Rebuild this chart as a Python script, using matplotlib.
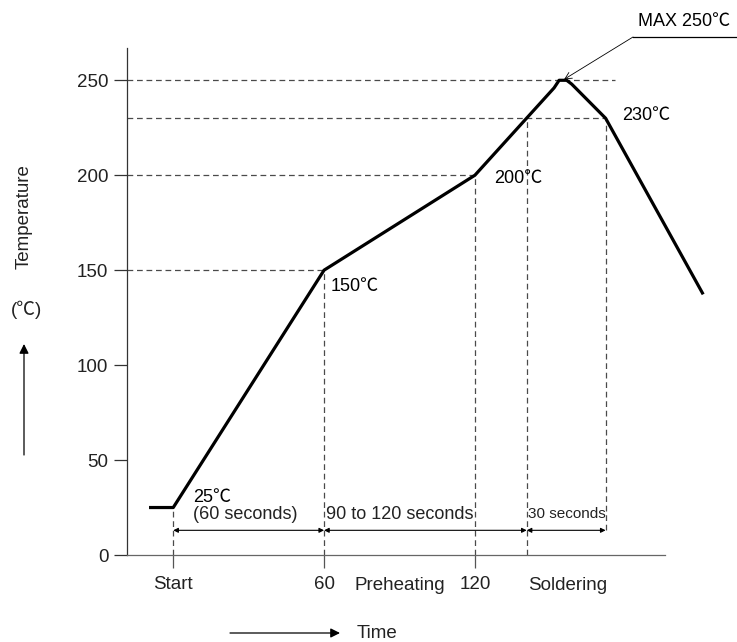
import matplotlib.pyplot as plt

plt.rcParams['font.family'] = ['Liberation Sans', 'Noto Sans CJK KR', 'DejaVu Sans']

# reflow profile (time in s from start, temperature in C)
profile_time = [-9, 0, 60, 120, 151.5, 153.5, 156.5, 158.5, 172, 210.5]
profile_temp = [25, 25, 150, 200, 246, 250, 250, 248, 230, 138]

# horizontal guide lines: level and where they stop
guide_levels = [250, 230, 200, 150]
guide_ends = [175.7, 172, 120, 60]

# vertical guide lines
vguide_x = [0, 60, 120, 140.6, 172]
vguide_top = [25, 150, 200, 230, 230]
vguide_bottom = [0, 0, 0, 0, 13]

# duration spans
spans = [(0, 60), (60, 140.6), (140.6, 172)]
span_y = 13

yticks = [0, 50, 100, 150, 200, 250]
xticks = [0, 60, 120]
xtick_labels = ['Start', '60', '120']

fig = plt.figure(figsize=(7.37, 6.42), dpi=100)
ax = fig.add_axes([127 / 737, (642 - 555) / 642, (720 - 127) / 737, (555 - 48) / 642])
ax.set_xlim(-18.4, 217.5)
ax.set_ylim(0, 267)

for s in ['top', 'right']:
    ax.spines[s].set_visible(False)
ax.spines['left'].set_color('#333333')
ax.spines['bottom'].set_color('#666666')
ax.spines['left'].set_linewidth(0.9)
ax.spines['bottom'].set_linewidth(0.9)
ax.spines['bottom'].set_bounds(-18.4, 195.6)

ax.set_yticks(yticks)
ax.set_xticks(xticks)
ax.set_xticklabels(xtick_labels)
ax.tick_params(axis='y', direction='out', length=9.4, width=0.9, color='#333333',
               labelsize=13.5, pad=4, labelcolor='#222222')
ax.tick_params(axis='x', direction='out', length=9.4, width=0.9, color='#555555',
               labelsize=13.5, pad=6, labelcolor='#222222')

dash = (0, (4.6, 3.0))
for lev, end in zip(guide_levels, guide_ends):
    ax.plot([-18.4, end], [lev, lev], color='#4a4a4a', lw=0.9, ls=dash, clip_on=False)
for x, top, bot in zip(vguide_x, vguide_top, vguide_bottom):
    ax.plot([x, x], [bot, top], color='#4a4a4a', lw=0.9, ls=dash, clip_on=False)

ax.plot(profile_time, profile_temp, color='black', lw=2.3, solid_joinstyle='round',
        clip_on=False, zorder=5)

for a, b in spans:
    ax.annotate('', xy=(b, span_y), xytext=(a, span_y),
                arrowprops=dict(arrowstyle='<|-|>', color='black', lw=0.8,
                                mutation_scale=7, shrinkA=0, shrinkB=0))

ax.text(7.8, 21.5, '(60 seconds)', fontsize=13, va='center', ha='left', color='#222222')
ax.text(90.3, 21.5, '90 to 120 seconds', fontsize=13, va='center', ha='center', color='#222222')
ax.text(156.5, 21.5, '30 seconds', fontsize=11, va='center', ha='center', color='#222222')

ax.text(7.9, 30.5, '25℃', fontsize=13, va='center', ha='left', color='black')
ax.text(62.7, 141.5, '150℃', fontsize=13, va='center', ha='left', color='black')
ax.text(127.5, 198.5, '200℃', fontsize=13, va='center', ha='left', color='black')
ax.text(178.5, 231.5, '230℃', fontsize=13, va='center', ha='left', color='black')

# extra axis labels
ax.text(90, -15.8, 'Preheating', fontsize=13.5, va='center', ha='center', color='#222222')
ax.text(157, -15.8, 'Soldering', fontsize=13.5, va='center', ha='center', color='#222222')

# MAX leader line
fig.text(638 / 737, 1 - 22 / 642, 'MAX 250℃', fontsize=13, va='center', ha='left')
fig.add_artist(plt.Line2D([633 / 737, 1.0], [1 - 37 / 642, 1 - 37 / 642],
                          color='black', lw=0.9, transform=fig.transFigure))
ax.annotate('', xy=(155.5, 250.5), xycoords='data',
            xytext=(633 / 737, 1 - 37 / 642), textcoords='figure fraction',
            arrowprops=dict(arrowstyle='->', color='black', lw=0.6,
                            mutation_scale=12, shrinkA=0, shrinkB=0))

# axis titles with arrows
fig.text(24 / 737, 1 - 217 / 642, 'Temperature', rotation=90, fontsize=13.5,
         va='center', ha='center', color='#222222')
fig.text(26 / 737, 1 - 310 / 642, '(℃)', fontsize=13.5, va='center', ha='center', color='#222222')
ax.annotate('', xy=(24 / 737, 1 - 344 / 642), xytext=(24 / 737, 1 - 455 / 642),
            xycoords='figure fraction', textcoords='figure fraction',
            arrowprops=dict(arrowstyle='-|>', color='black', lw=0.9,
                            mutation_scale=14, shrinkA=0, shrinkB=0))
ax.annotate('', xy=(340 / 737, 1 - 633 / 642), xytext=(230 / 737, 1 - 633 / 642),
            xycoords='figure fraction', textcoords='figure fraction',
            arrowprops=dict(arrowstyle='-|>', color='black', lw=0.9,
                            mutation_scale=14, shrinkA=0, shrinkB=0))
fig.text(357 / 737, 1 - 633 / 642, 'Time', fontsize=13.5, va='center', ha='left', color='#222222')

fig.savefig('out.png', dpi=100)
